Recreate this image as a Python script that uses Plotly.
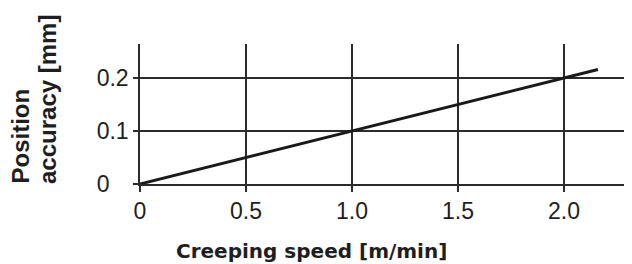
import plotly.graph_objects as go

speed = [0.0, 2.16]
accuracy = [0.0, 0.216]
x_ticks = [0, 0.5, 1.0, 1.5, 2.0]
x_labels = ["0", "0.5", "1.0", "1.5", "2.0"]
y_ticks = [0, 0.1, 0.2]
y_labels = ["0\u00a0\u00a0\u00a0", "0.1", "0.2"]

OFF = 8  # default page body margin
W, H = 632 - OFF, 264 - OFF
L, T = 140 - OFF, 44 - OFF
B = H - (184 - OFF)
R = 0
pw, ph = W - L - R, H - T - B

grid = "#2b2b2b"
txt = "#1e1e1e"
FAM = "Liberation Sans, Arial, sans-serif"

def px_x(wx):
    return (wx - OFF - L) / pw

def px_y(wy):
    return (H - B - (wy - OFF)) / ph

fig = go.Figure()
fig.add_trace(go.Scatter(x=speed, y=accuracy, mode="lines",
                         line=dict(color="#1a1a1a", width=3), showlegend=False,
                         cliponaxis=False))

fig.update_layout(
    width=W, height=H,
    margin=dict(l=L, r=R, t=T, b=B, pad=0),
    paper_bgcolor="white", plot_bgcolor="white",
    font=dict(family=FAM, size=23, color=txt),
    xaxis=dict(range=[0, pw / 212.0], tickvals=x_ticks, ticktext=x_labels,
               showgrid=True, gridcolor=grid, gridwidth=1.5,
               zeroline=False, showline=True, linecolor=grid, linewidth=1.5,
               ticks="outside", ticklen=6, tickwidth=1.5, tickcolor=grid,
               tickfont=dict(size=23, color=txt), fixedrange=True),
    yaxis=dict(range=[0, ph / 530.0], tickvals=y_ticks, ticktext=y_labels,
               showgrid=True, gridcolor=grid, gridwidth=1.5,
               zeroline=False, showline=True, linecolor=grid, linewidth=1.5,
               ticks="outside", ticklen=5, tickwidth=1.5, tickcolor=grid,
               tickfont=dict(size=23, color=txt), fixedrange=True),
)

fig.add_annotation(
    text="<b>Position</b>", textangle=-90,
    xref="paper", yref="paper", x=px_x(20), y=px_y(186),
    xanchor="center", yanchor="bottom", showarrow=False,
    font=dict(size=24, color=txt, family=FAM),
)
fig.add_annotation(
    text="<b>accuracy [mm]</b>", textangle=-90,
    xref="paper", yref="paper", x=px_x(47.5), y=px_y(186),
    xanchor="center", yanchor="bottom", showarrow=False,
    font=dict(size=24, color=txt, family=FAM),
)
fig.add_annotation(
    text="<b>Creeping speed [m/min]</b>",
    xref="paper", yref="paper", x=px_x(311), y=px_y(237),
    xanchor="center", yanchor="top", showarrow=False,
    font=dict(size=20, color=txt, family="DejaVu Sans, sans-serif"),
)

fig.write_html("out.html")
